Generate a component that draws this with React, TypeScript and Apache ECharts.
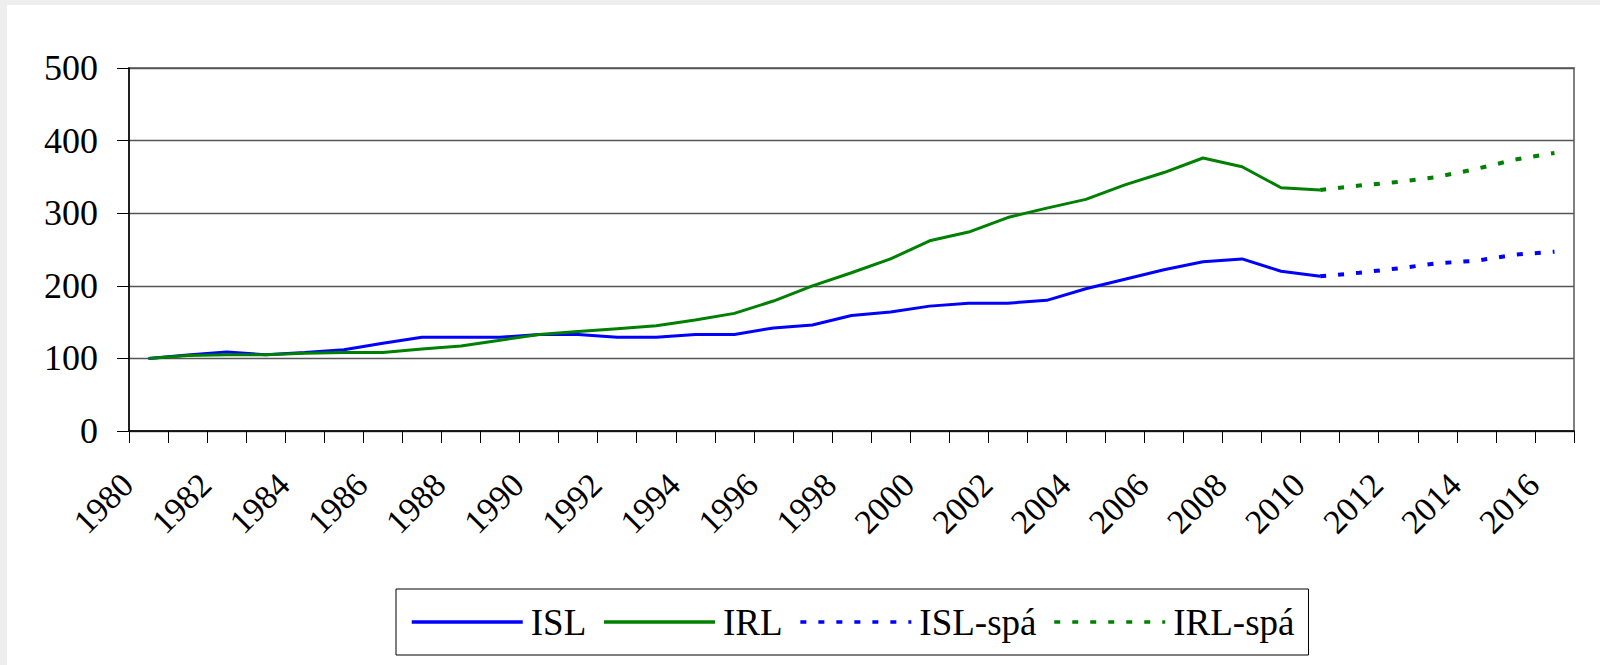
import React, { useEffect, useRef } from "react";
import * as echarts from "echarts";

const years: string[] = [];
for (let y = 1980; y <= 2016; y++) years.push(String(y));

const islActual = [100, 104.6, 108.7, 105, 108, 112, 121, 129, 129, 129, 133, 133, 129, 129, 133, 133, 142, 146, 159, 164, 172, 176, 176, 180, 196, 209, 222, 233, 237, 220, 213];
const irlActual = [100, 104, 105, 105, 107, 108, 108, 113, 117, 125, 133, 137, 141, 145, 153, 162, 179, 200, 218, 237, 262, 274, 294, 307, 319, 339, 356, 376, 364, 335, 332];
const islForecast = [213, 218, 224, 231, 234.5, 243, 247];
const irlForecast = [332, 338, 343, 350, 361, 374, 383];
const forecastStart = 30;

const seriesNames = ["ISL", "IRL", "ISL-spá", "IRL-spá"];
const yTicks = { min: 0, max: 500, interval: 100 };

const pad = (arr: number[], start: number) => {
  const out: (number | null)[] = [];
  for (let i = 0; i < years.length; i++) {
    const j = i - start;
    out.push(j >= 0 && j < arr.length ? arr[j] : null);
  }
  return out;
};

const FONT = "'Liberation Serif', 'Times New Roman', serif";

export default function App() {
  const ref = useRef<HTMLDivElement>(null);
  useEffect(() => {
    if (!ref.current) return;
    const chart = echarts.init(ref.current, undefined, { renderer: "svg" });
    const blue = "#0000ff";
    const green = "#008000";
    chart.setOption({
      animation: false,
      backgroundColor: "#ffffff",
      grid: {
        left: 122,
        top: 63,
        right: 26,
        height: 363,
        show: true,
        borderColor: "#808080",
        borderWidth: 2,
        backgroundColor: "transparent",
      },
      legend: {
        left: 389,
        top: 584,
        orient: "horizontal",
        data: seriesNames,
        itemWidth: 111,
        itemHeight: 24,
        itemGap: 16,
        padding: [12, 14, 12, 14],
        borderColor: "#000",
        borderWidth: 1,
        itemStyle: { opacity: 0 },
        lineStyle: { width: 3.5 },
        textStyle: { fontFamily: FONT, fontSize: 37, color: "#000", padding: [0, 0, 0, 3], lineHeight: 42 },
      },
      xAxis: {
        type: "category",
        data: years,
        boundaryGap: true,
        axisLine: { lineStyle: { color: "#000", width: 1.5 } },
        axisTick: { show: true, interval: 0, length: 12, lineStyle: { color: "#000", width: 1 } },
        axisLabel: {
          interval: 1,
          rotate: 45,
          margin: 27,
          padding: [0, 30, 0, 0],
          fontFamily: FONT,
          fontSize: 34,
          color: "#000",
        },
        splitLine: { show: false },
      },
      yAxis: {
        type: "value",
        min: yTicks.min,
        max: yTicks.max,
        interval: yTicks.interval,
        axisLine: { show: true, lineStyle: { color: "#000", width: 1.5 } },
        axisTick: { show: true, length: 12, lineStyle: { color: "#000", width: 1 } },
        axisLabel: { margin: 31, fontFamily: FONT, fontSize: 36, color: "#000" },
        splitLine: { show: true, lineStyle: { color: "#555555", width: 1.3 } },
      },
      series: [
        {
          name: seriesNames[0],
          type: "line",
          data: pad(islActual, 0),
          showSymbol: false,
          symbol: "none",
          lineStyle: { color: blue, width: 3 },
          itemStyle: { color: blue },
        },
        {
          name: seriesNames[1],
          type: "line",
          data: pad(irlActual, 0),
          showSymbol: false,
          symbol: "none",
          lineStyle: { color: green, width: 3 },
          itemStyle: { color: green },
        },
        {
          name: seriesNames[2],
          type: "line",
          data: pad(islForecast, forecastStart),
          showSymbol: false,
          symbol: "none",
          lineStyle: { color: blue, width: 4, type: [6, 12] },
          itemStyle: { color: blue },
        },
        {
          name: seriesNames[3],
          type: "line",
          data: pad(irlForecast, forecastStart),
          showSymbol: false,
          symbol: "none",
          lineStyle: { color: green, width: 4, type: [6, 12] },
          itemStyle: { color: green },
        },
      ],
    });
    return () => chart.dispose();
  }, []);
  return (
    <div style={{ position: "fixed", left: 0, top: 0, width: 1600, height: 665, background: "#eeeeee" }}>
      <div ref={ref} style={{ position: "absolute", left: 7, top: 5, width: 1593, height: 660, background: "#ffffff" }} />
    </div>
  );
}
